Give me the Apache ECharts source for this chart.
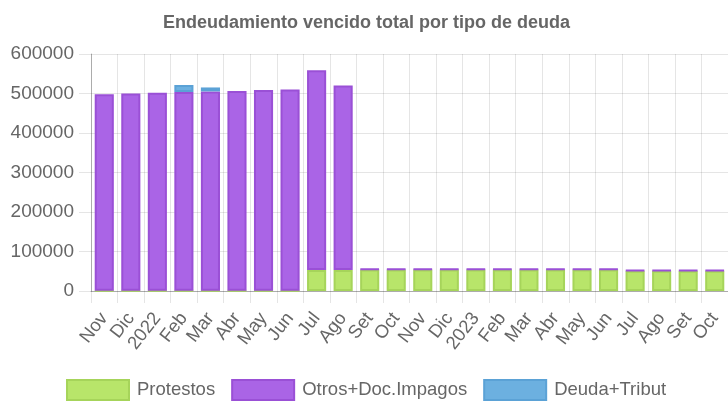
<!DOCTYPE html>
<html>
<head>
<meta charset="utf-8">
<script src="https://cdn.jsdelivr.net/npm/echarts@6/dist/echarts.min.js"></script>
<style>html,body{margin:0;padding:0;background:#fff}#c{width:728px;height:404px}</style>
</head>
<body>
<div id="c"></div>
<script>
var categories = ['Nov','Dic','2022','Feb','Mar','Abr','May','Jun','Jul','Ago','Set','Oct','Nov','Dic','2023','Feb','Mar','Abr','May','Jun','Jul','Ago','Set','Oct'];
var protestos = [800,800,800,800,800,800,800,800,53000,53000,54500,54500,54500,54500,54500,54500,54500,54500,54500,54500,51500,51500,51500,51500];
var otros = [497000,499000,501000,503000,504500,505500,508000,509500,506000,467000,1000,1000,1000,1000,1000,1000,1000,1000,1000,1000,1000,1000,1000,1000];
var deuda = [0,0,0,18000,10000,0,0,0,0,0,0,0,0,0,0,0,0,0,0,0,0,0,0,0];
var yTicks = [0,100000,200000,300000,400000,500000,600000];

var chart = echarts.init(document.getElementById('c'), null, {renderer:'canvas'});
var font = 'Liberation Sans, Arial, Helvetica, sans-serif';
function ser(name, data, fill, border){
  return {name:name, type:'bar', stack:'t',
    data:data.map(function(v){ return v === 0 ? '-' : v; }), barWidth:'72%',
    itemStyle:{color:fill, borderColor:border, borderWidth:2}};
}
chart.setOption({
  animation:false,
  textStyle:{fontFamily:font},
  title:{text:'Endeudamiento vencido total por tipo de deuda', left:158, top:9,
    textStyle:{fontFamily:font, fontSize:18, fontWeight:'bold', color:'#666'}},
  legend:{bottom:-2, left:61, itemWidth:62, itemHeight:20, itemGap:16, icon:'rect',
    textStyle:{fontFamily:font, fontSize:18.5, color:'#666', padding:[0,0,0,3]},
    data:['Protestos','Otros+Doc.Impagos','Deuda+Tribut']},
  grid:{left:91, right:-3, top:54, bottom:113, containLabel:false},
  xAxis:{type:'category', data:categories, boundaryGap:true,
    axisLine:{show:true, lineStyle:{color:'rgba(0,0,0,0.25)'}},
    axisTick:{show:true, length:12, interval:0, lineStyle:{color:'rgba(0,0,0,0.1)'}},
    splitLine:{show:true, interval:0, lineStyle:{color:'rgba(0,0,0,0.1)'}},
    axisLabel:{interval:0, rotate:52, margin:24, fontSize:18.5, color:'#666', fontFamily:font}},
  yAxis:{type:'value', min:yTicks[0], max:yTicks[yTicks.length-1], interval:100000,
    axisLine:{show:true, lineStyle:{color:'rgba(0,0,0,0.25)'}},
    axisTick:{show:true, length:12, lineStyle:{color:'rgba(0,0,0,0.1)'}},
    splitLine:{show:true, lineStyle:{color:'rgba(0,0,0,0.1)'}},
    axisLabel:{margin:17, fontSize:19, color:'#666', fontFamily:font,
      formatter:function(v){ return String(v); }}},
  series:[
    ser('Protestos', protestos, '#b8e56a', '#a6d45a'),
    ser('Otros+Doc.Impagos', otros, '#aa64e6', '#9a50d6'),
    ser('Deuda+Tribut', deuda, '#6cb0e0', '#5ba2d6')
  ]
});
</script>
</body>
</html>
